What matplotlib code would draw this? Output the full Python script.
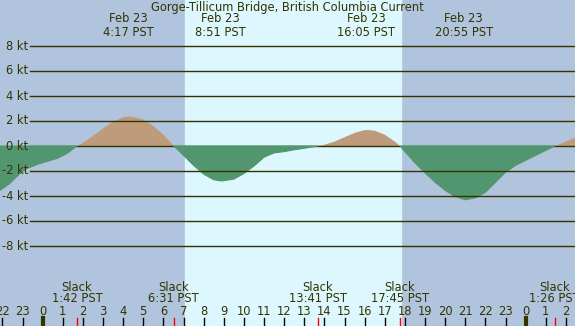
import numpy as np
import matplotlib.pyplot as plt

# current speed (kt), hours from midnight Feb 23 PST
hours = [-2.12, -1.63, -1.13, -0.78, -0.13, 0.71, 1.21, 1.7,
         2.0, 2.5, 3.0, 3.5, 4.0, 4.28, 4.5, 5.0, 5.5, 6.0, 6.52,
         7.0, 7.5, 8.0, 8.5, 8.9, 9.5, 10.0, 10.5, 11.0, 11.5, 12.0, 12.5, 13.0, 13.68,
         14.0, 14.5, 15.0, 15.5, 16.0, 16.15, 16.5, 17.0, 17.5, 17.76,
         18.0, 18.5, 19.0, 19.5, 20.0, 20.5, 21.0, 21.5, 22.0, 22.5, 23.0, 23.5,
         24.0, 24.5, 25.0, 25.45, 26.0, 26.45]
current = [-3.55, -3.0, -2.2, -1.8, -1.4, -1.0, -0.6, 0.0,
           0.25, 0.8, 1.4, 1.95, 2.3, 2.35, 2.33, 2.1, 1.6, 0.9, 0.0,
           -0.75, -1.55, -2.25, -2.7, -2.8, -2.65, -2.2, -1.6, -0.9, -0.55, -0.45, -0.3, -0.18, 0.0,
           0.1, 0.35, 0.7, 1.05, 1.27, 1.28, 1.22, 0.9, 0.35, 0.0,
           -0.45, -1.35, -2.15, -2.9, -3.55, -4.05, -4.3, -4.15, -3.7, -2.9, -2.1, -1.55,
           -1.15, -0.75, -0.35, 0.0, 0.35, 0.65]

# max current events (top labels)
max_times = [4 + 17/60, 8 + 51/60, 16 + 5/60, 20 + 55/60]
max_labels = ["4:17 PST", "8:51 PST", "16:05 PST", "20:55 PST"]
# slack events (bottom labels)
slack_times = [1 + 42/60, 6 + 31/60, 13 + 41/60, 17 + 45/60, 25 + 26/60]
slack_labels = ["1:42 PST", "6:31 PST", "13:41 PST", "17:45 PST", "1:26 PST"]

sunrise = 7.07
sunset = 17.81
kt_levels = [8, 6, 4, 2, 0, -2, -4, -6, -8]

night = '#b0c4de'
day = '#ddf7ff'
flood = '#bd9b7b'
ebb = '#52966f'
ink = '#333300'
fs = 8.3

h = np.array(hours)
c = np.array(current)

fig = plt.figure(figsize=(5.75, 3.26), dpi=100)
ax = fig.add_axes([0, 0, 1, 1])
ax.set_xlim(-2.12, 26.45)
ax.set_ylim(-14.4, 11.68)
ax.set_facecolor(night)
ax.axvspan(sunrise, sunset, color=day, zorder=0)

ax.fill_between(h, c, 0, where=c >= 0, interpolate=True, color=flood, lw=0, zorder=1)
# ebb drawn over the zero line, like the original
ax.fill_between(h, c, 0, where=c <= 0, interpolate=True, facecolor=ebb,
                edgecolor=ebb, lw=0.8, zorder=2.5)

xt = ax.get_xaxis_transform()
for k in kt_levels:
    ax.axhline(k, xmin=30/575, xmax=1, color=ink, lw=1, zorder=2 if k == 0 else 3)
    ax.text(28/575, k, "%d kt" % k, transform=ax.get_yaxis_transform(),
            ha='right', va='center', fontsize=fs, color=ink)

ax.text(0.5, 1 - 7/326, "Gorge-Tillicum Bridge, British Columbia Current",
        transform=ax.transAxes, ha='center', va='center', fontsize=fs, color=ink)

for t, lab in zip(max_times, max_labels):
    ax.text(t, 1 - 19/326, "Feb 23", transform=xt, ha='center', va='center', fontsize=fs, color=ink)
    ax.text(t, 1 - 32/326, lab, transform=xt, ha='center', va='center', fontsize=fs, color=ink)

for t, lab in zip(slack_times, slack_labels):
    ax.text(t, 1 - 287.5/326, "Slack", transform=xt, ha='center', va='center', fontsize=fs, color=ink)
    ax.text(t, 1 - 299/326, lab, transform=xt, ha='center', va='center', fontsize=fs, color=ink)
    ax.plot([t, t], [0, 8/326], transform=xt, color='red', lw=1, zorder=4)

for hr in range(-2, 27):
    ax.text(hr, 1 - 311.5/326, str(hr % 24), transform=xt, ha='center', va='center',
            fontsize=fs, color=ink)
    lw = 3 if hr % 24 == 0 else 1
    ax.plot([hr, hr], [0, 8/326], transform=xt, color='black' if lw == 1 else ink, lw=lw, zorder=4)

ax.set_xticks([])
ax.set_yticks([])
for s in ax.spines.values():
    s.set_visible(False)

fig.savefig("out.png", dpi=100)
